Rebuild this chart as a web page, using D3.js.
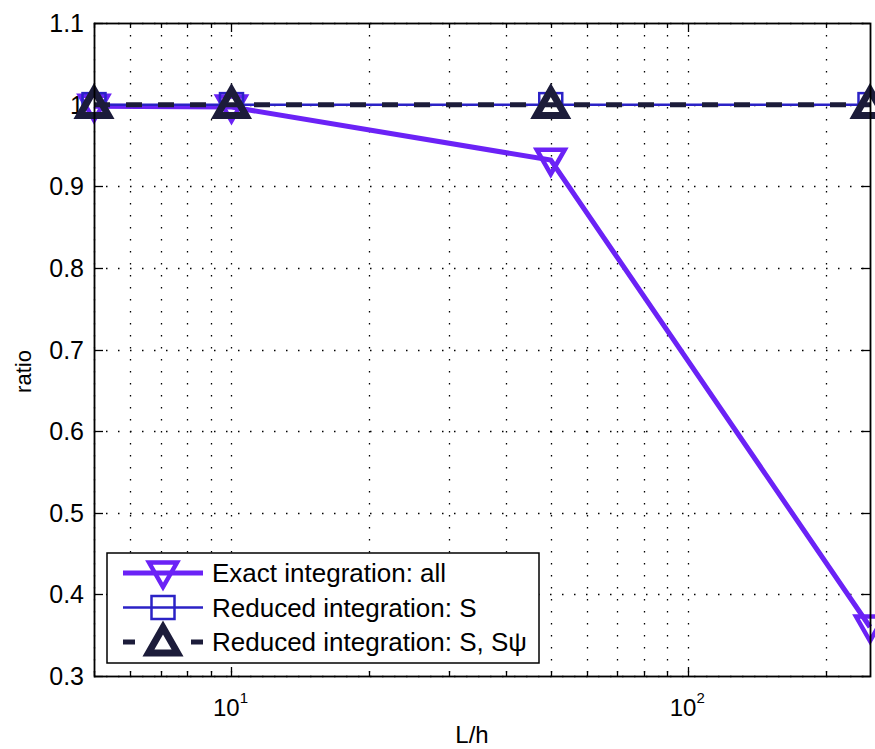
<!DOCTYPE html>
<html>
<head>
<meta charset="utf-8">
<script src="https://cdn.jsdelivr.net/npm/d3@7"></script>
<style>
  body { margin: 0; background: #fff; }
  svg { font-family: "Liberation Sans", Arial, sans-serif; }
</style>
</head>
<body>
<script>
const w = 875;
const h = 749;
const margin = {top: 23, right: 5, bottom: 73, left: 94};

// data
const ratioLh = [5, 10, 50, 250];
const exactAll = [0.998, 0.997, 0.932, 0.36];
const reducedS = [1.0, 1.0, 1.0, 1.0];
const reducedSSpsi = [1.0, 1.0, 1.0, 1.0];
const yTicks = [0.3, 0.4, 0.5, 0.6, 0.7, 0.8, 0.9, 1.0, 1.1];
const yTickLabels = ["0.3", "0.4", "0.5", "0.6", "0.7", "0.8", "0.9", "1", "1.1"];
const xMajor = [10, 100];
const xMinor = [5, 6, 7, 8, 9, 20, 30, 40, 50, 60, 70, 80, 90, 200];
const seriesNames = ["Exact integration: all", "Reduced integration: S", "Reduced integration: S, S\u03c8"];

const series = [
  {name: seriesNames[0], values: exactAll, color: "#6b22f6", width: 5, dash: null, marker: "down"},
  {name: seriesNames[1], values: reducedS, color: "#2b22c6", width: 2.5, dash: null, marker: "square"},
  {name: seriesNames[2], values: reducedSSpsi, color: "#1c1c3a", width: 5, dash: "16,16", marker: "up"}
];

const iw = w - margin.left - margin.right;
const ih = h - margin.top - margin.bottom;

const x = d3.scaleLog().domain([5, 250]).range([0, iw]);
const y = d3.scaleLinear().domain([0.3, 1.1]).range([ih, 0]);

const svg = d3.select("body").append("svg")
  .attr("width", w)
  .attr("height", h);

const g = svg.append("g")
  .attr("transform", "translate(" + margin.left + "," + margin.top + ")");

// dotted grid
const grid = g.append("g").attr("stroke", "#000").attr("stroke-width", 1.3)
  .attr("stroke-dasharray", "1.5,10.5");
grid.selectAll(".gx").data(xMajor.concat(xMinor)).enter().append("line")
  .attr("x1", d => Math.round(x(d)) + 0.5).attr("x2", d => Math.round(x(d)) + 0.5)
  .attr("y1", 0).attr("y2", ih);
grid.selectAll(".gy").data(yTicks).enter().append("line")
  .attr("y1", d => Math.round(y(d)) + 0.5).attr("y2", d => Math.round(y(d)) + 0.5)
  .attr("x1", 0).attr("x2", iw);

// inward ticks on all four sides
const ticks = g.append("g").attr("stroke", "#000").attr("stroke-width", 1.3);
xMajor.forEach(d => {
  const px = Math.round(x(d)) + 0.5;
  ticks.append("line").attr("x1", px).attr("x2", px).attr("y1", ih).attr("y2", ih - 9);
  ticks.append("line").attr("x1", px).attr("x2", px).attr("y1", 0).attr("y2", 9);
});
xMinor.forEach(d => {
  const px = Math.round(x(d)) + 0.5;
  ticks.append("line").attr("x1", px).attr("x2", px).attr("y1", ih).attr("y2", ih - 5);
  ticks.append("line").attr("x1", px).attr("x2", px).attr("y1", 0).attr("y2", 5);
});
yTicks.forEach(d => {
  const py = Math.round(y(d)) + 0.5;
  ticks.append("line").attr("x1", 0).attr("x2", 9).attr("y1", py).attr("y2", py);
  ticks.append("line").attr("x1", iw).attr("x2", iw - 9).attr("y1", py).attr("y2", py);
});

// tick labels
g.selectAll(".ylab").data(yTicks).enter().append("text")
  .attr("x", -10).attr("y", d => y(d)).attr("dy", "0.36em")
  .attr("text-anchor", "end").attr("font-size", 25)
  .text((d, i) => yTickLabels[i]);

xMajor.forEach(d => {
  const t = g.append("text").attr("x", x(d) - 1).attr("y", ih + 40)
    .attr("text-anchor", "middle").attr("font-size", 24);
  t.append("tspan").text("10");
  t.append("tspan").attr("dy", -13).attr("font-size", 15).text(Math.round(Math.log10(d)));
});

// axis titles
svg.append("text").attr("x", margin.left + iw / 2 - 10).attr("y", 743)
  .attr("text-anchor", "middle").attr("font-size", 24).text("L/h");
svg.append("text").attr("transform", "translate(31," + (margin.top + ih / 2 + 22) + ") rotate(-90)")
  .attr("text-anchor", "middle").attr("font-size", 22).text("ratio");

const line = d3.line().x(d => x(d[0])).y(d => y(d[1]));

function drawMarker(sel, type, color, cx, cy) {
  if (type === "down") {
    const s = 14;
    sel.append("path")
      .attr("d", "M" + (cx - s) + "," + (cy - s * 0.75) + "L" + (cx + s) + "," + (cy - s * 0.75) + "L" + cx + "," + (cy + s * 1.0) + "Z")
      .attr("fill", "none").attr("stroke", color).attr("stroke-width", 4.5).attr("stroke-linejoin", "miter");
  } else if (type === "up") {
    const s = 14.5;
    sel.append("path")
      .attr("d", "M" + (cx - s) + "," + (cy + s * 0.75) + "L" + (cx + s) + "," + (cy + s * 0.75) + "L" + cx + "," + (cy - s * 1.0) + "Z")
      .attr("fill", "none").attr("stroke", color).attr("stroke-width", 7).attr("stroke-linejoin", "miter");
  } else {
    const s = 11.5;
    sel.append("rect").attr("x", cx - s).attr("y", cy - s).attr("width", 2 * s).attr("height", 2 * s)
      .attr("fill", "none").attr("stroke", color).attr("stroke-width", 2.5);
  }
}

series.forEach(s => {
  const pts = ratioLh.map((v, i) => [v, s.values[i]]);
  g.append("path").datum(pts)
    .attr("d", line)
    .attr("fill", "none")
    .attr("stroke", s.color)
    .attr("stroke-width", s.width)
    .attr("stroke-dasharray", s.dash);
  pts.forEach(p => drawMarker(g, s.marker, s.color, x(p[0]), y(p[1])));
});

// frame
g.append("rect").attr("x", 0.5).attr("y", 0.5).attr("width", iw).attr("height", ih)
  .attr("fill", "none").attr("stroke", "#000").attr("stroke-width", 1.8);

// legend
const lg = svg.append("g").attr("transform", "translate(107,553)");
lg.append("rect").attr("width", 432).attr("height", 110)
  .attr("fill", "#fff").attr("stroke", "#000").attr("stroke-width", 1.5);
series.forEach((s, i) => {
  const ly = 20 + i * 34.5;
  lg.append("line").attr("x1", 16).attr("x2", 96).attr("y1", ly).attr("y2", ly)
    .attr("stroke", s.color).attr("stroke-width", s.width)
    .attr("stroke-dasharray", s.dash ? "12,56,12" : null);
  drawMarker(lg, s.marker, s.color, 56, ly);
  lg.append("text").attr("x", 105).attr("y", ly).attr("dy", "0.36em")
    .attr("font-size", 26).text(s.name);
});
</script>
</body>
</html>
